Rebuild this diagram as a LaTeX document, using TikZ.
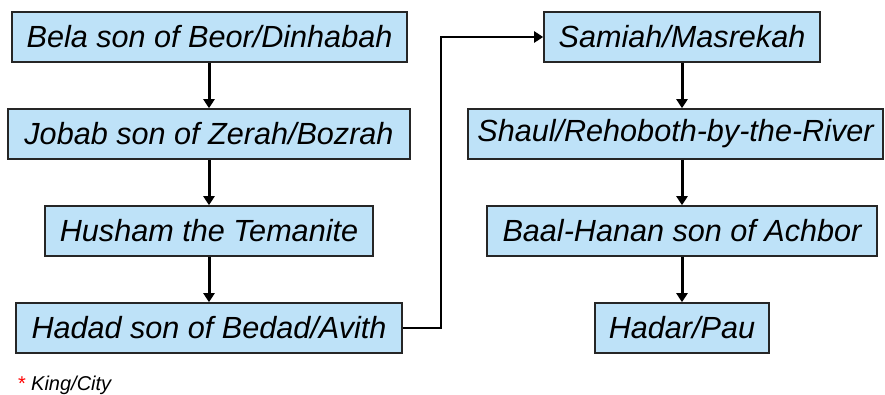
\documentclass[tikz,border=0pt]{standalone}
\usepackage{fontspec}
\setmainfont{Liberation Sans}
\usetikzlibrary{arrows.meta,positioning}
\definecolor{kingblue}{RGB}{190,226,248}
\tikzset{
  king/.style={draw=black!85,line width=1.6pt,fill=kingblue,minimum height=50pt,inner sep=0pt,
    font=\fontsize{30.6}{36}\selectfont\itshape},
  link/.style={line width=3pt,-{Triangle[length=9pt,width=11pt]}}
}
\begin{document}
\begin{tikzpicture}[x=1pt,y=-1pt]
    \useasboundingbox (0,0) rectangle (885,394);
    % left column
    \foreach \kname/\x/\y/\w/\ktext in {bela/209.5/37/395/{Bela son of Beor/Dinhabah},
        jobab/209/134/402/{Jobab son of Zerah/Bozrah},
        husham/209/231/328/{Husham the Temanite},
        hadad/209/328/386/{Hadad son of Bedad/Avith}}
    	\node[king,minimum width=\w pt] (\kname) at (\x,\y) {\ktext};
    % right column
    \foreach \kname/\x/\y/\w/\ktext in {samiah/682/37/276/{Samiah/Masrekah},
        shaul/675.5/134/415/{Shaul/Rehoboth-by-the-River},
        baal/682/231/390/{Baal-Hanan son of Achbor},
        hadar/682/328/174/{Hadar/Pau}}
    	\node[king,minimum width=\w pt] (\kname) at (\x,\y) {\ktext};
    % succession
    \foreach \a/\b/\c in {bela/jobab/husham, jobab/husham/husham, husham/hadad/husham,
        samiah/shaul/hadar, shaul/baal/hadar, baal/hadar/hadar}
    	\draw[link] (\c.north |- \a.south) -- (\c.north |- \b.north);
    \draw[link,line width=2.4pt] (hadad.east) -- ++(38,0) |- (samiah.west);
    % legend
    \node[anchor=base west,inner sep=0pt,text=red,font=\fontsize{20}{24}\selectfont] (star) at (18,390) {*};
    \node[anchor=base west,inner sep=0pt,font=\fontsize{20}{24}\selectfont\itshape] (legend) at (31,390) {King/City};
\end{tikzpicture}
\end{document}
